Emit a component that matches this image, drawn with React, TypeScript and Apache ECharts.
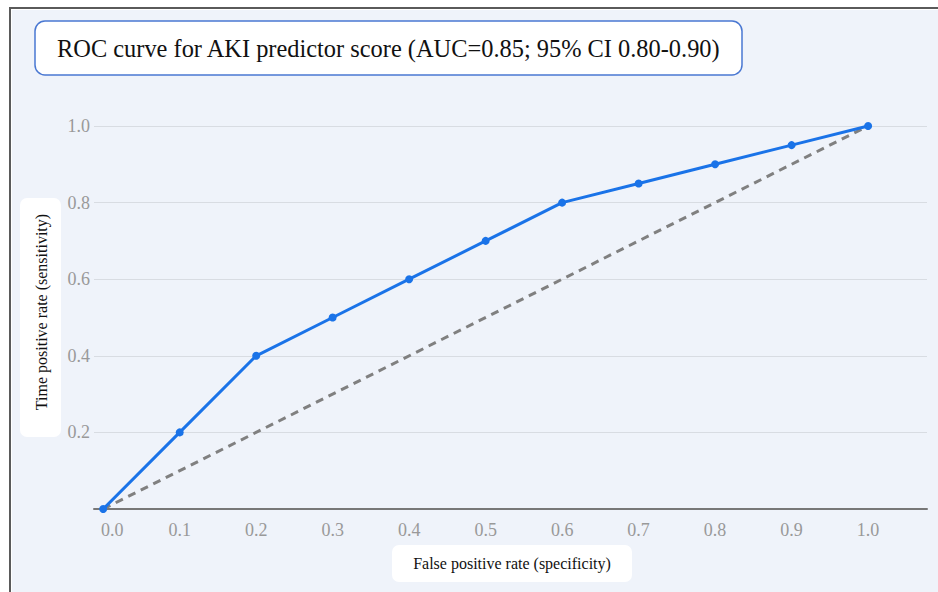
import React, { useEffect, useRef } from "react";
import * as echarts from "echarts";

const xTickValues = [0, 0.1, 0.2, 0.3, 0.4, 0.5, 0.6, 0.7, 0.8, 0.9, 1.0];
const falsePositiveRate = [0, 0.1, 0.2, 0.3, 0.4, 0.5, 0.6, 0.7, 0.8, 0.9, 1.0];
const truePositiveRate = [0, 0.2, 0.4, 0.5, 0.6, 0.7, 0.8, 0.85, 0.9, 0.95, 1.0];
const referenceX = [0, 1];
const referenceY = [0, 1];

const titleText = "ROC curve for AKI predictor score (AUC=0.85; 95% CI 0.80-0.90)";
const xName = "False positive rate (specificity)";
const yName = "Time positive rate (sensitivity)";

const SERIF = "Liberation Serif";
const TICK_COLOR = "#999999";

export default function App() {
  const ref = useRef<HTMLDivElement>(null);

  useEffect(() => {
    if (!ref.current) return;
    const chart = echarts.init(ref.current, undefined, { renderer: "svg" });
    const rocData = falsePositiveRate.map((x, i) => [x, truePositiveRate[i]]);
    const refData = referenceX.map((x, i) => [x, referenceY[i]]);
    chart.setOption({
      animation: false,
      backgroundColor: "transparent",
      textStyle: { fontFamily: SERIF },
      grid: {
        left: 94,
        right: 11,
        top: 126,
        bottom: 83,
        containLabel: false,
        outerBoundsMode: "none",
      },
      xAxis: {
        type: "value",
        min: -0.012,
        max: 1.077,
        axisLine: { show: true, onZero: false, lineStyle: { color: "#777777", width: 2 } },
        axisTick: { show: false },
        splitLine: { show: false },
        axisLabel: {
          customValues: xTickValues,
          margin: 12,
          color: TICK_COLOR,
          fontFamily: SERIF,
          fontSize: 18,
          formatter: (v: number) => (Math.abs(v) < 1e-9 ? "{z|0.0}" : v.toFixed(1)),
          rich: {
            z: { padding: [0, 0, 0, 18], color: TICK_COLOR, fontFamily: SERIF, fontSize: 18 },
          },
        },
      },
      yAxis: {
        type: "value",
        min: 0,
        max: 1,
        interval: 0.2,
        axisLine: { show: false },
        axisTick: { show: false },
        splitLine: { show: true, lineStyle: { color: "#d8dce2", width: 1 } },
        axisLabel: {
          showMinLabel: false,
          margin: 4,
          color: TICK_COLOR,
          fontFamily: SERIF,
          fontSize: 18,
          formatter: (v: number) => v.toFixed(1),
        },
      },
      series: [
        {
          type: "line",
          data: refData,
          symbol: "none",
          z: 3,
          lineStyle: { color: "#808080", width: 3, type: [8, 6] },
        },
        {
          type: "line",
          data: rocData,
          symbol: "circle",
          symbolSize: 8,
          z: 4,
          itemStyle: { color: "#1a73e8" },
          lineStyle: { color: "#1a73e8", width: 3 },
        },
      ],
      graphic: [
        {
          type: "rect",
          shape: { x: 35, y: 21, width: 707, height: 54, r: 10 },
          style: { fill: "#ffffff", stroke: "#4a78d2", lineWidth: 1.5 },
        },
        {
          type: "text",
          x: 57,
          y: 48,
          style: {
            text: titleText,
            fill: "#111111",
            fontFamily: SERIF,
            fontSize: 24.4,
            verticalAlign: "middle",
            align: "left",
          },
        },
        {
          type: "rect",
          shape: { x: 20, y: 198, width: 41, height: 239, r: 7 },
          style: { fill: "#ffffff" },
        },
        {
          type: "text",
          x: 41,
          y: 312,
          rotation: Math.PI / 2,
          style: {
            text: yName,
            fill: "#111111",
            fontFamily: SERIF,
            fontSize: 16,
            align: "center",
            verticalAlign: "middle",
          },
        },
        {
          type: "rect",
          shape: { x: 392, y: 545, width: 240, height: 37, r: 7 },
          style: { fill: "#ffffff" },
        },
        {
          type: "text",
          x: 512,
          y: 563,
          style: {
            text: xName,
            fill: "#111111",
            fontFamily: SERIF,
            fontSize: 16,
            align: "center",
            verticalAlign: "middle",
          },
        },
      ],
    });
    return () => chart.dispose();
  }, []);

  return (
    <div style={{ position: "fixed", left: 0, top: 0, width: 938, height: 592, background: "#ffffff" }}>
      <div
        style={{
          position: "absolute",
          left: 9,
          top: 7,
          width: 929,
          height: 585,
          borderTop: "2.5px solid #5a5a5a",
          borderLeft: "2.5px solid #5a5a5a",
          boxSizing: "border-box",
        }}
      />
      <div
        style={{
          position: "absolute",
          left: 12,
          top: 10,
          width: 926,
          height: 582,
          background: "#eff3fa",
        }}
      />
      <div ref={ref} style={{ position: "absolute", left: 0, top: 0, width: 938, height: 592 }} />
    </div>
  );
}
